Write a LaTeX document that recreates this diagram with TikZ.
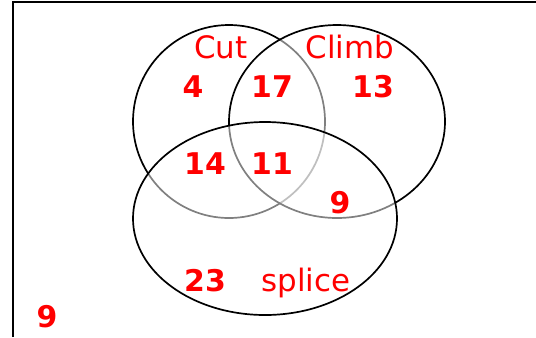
\documentclass[tikz,border=0pt]{standalone}
\usepackage{fontspec}
\setmainfont{DejaVu Sans}
\usetikzlibrary{positioning}

\begin{document}
\begin{tikzpicture}[x=1bp, y=-1bp,
    setline/.style={line width=1.7bp},
    veil/.style={fill=white, fill opacity=0.5},
    count/.style={text=red, inner sep=0pt, anchor=base, font=\fontsize{30}{36}\selectfont\bfseries},
    setname/.style={text=red, inner sep=0pt, anchor=base, font=\fontsize{31}{37}\selectfont},
]
\useasboundingbox (0,0) rectangle (536,337);

% Frame
\draw[line width=2.6bp] (13,337) -- (13,2) -- (536,2);

% Sets
\draw[setline] (229,121.5) ellipse [x radius=96, y radius=96.5];
\fill[veil] (337,121.5) ellipse [x radius=108, y radius=96.5];
\draw[setline] (337,121.5) ellipse [x radius=108, y radius=96.5];
\fill[veil] (265,218.5) ellipse [x radius=132, y radius=96.5];
\draw[setline] (265,218.5) ellipse [x radius=132, y radius=96.5];

% Set names
\node[setname] (cut) at (221,58) {Cut};
\node[setname] (climb) at (350,58) {Climb};
\node[setname] (splice) at (306,291) {splice};

% Counts
\node[count] (n4) at (193,97) {4};
\node[count] (n17) at (272,97) {17};
\node[count] (n13) at (373,97) {13};
\node[count] (n14) at (205,174) {14};
\node[count] (n11) at (272,174) {11};
\node[count] (n9) at (340,213) {9};
\node[count] (n23) at (205,291) {23};
\node[count] (nout) at (47,327) {9};

\end{tikzpicture}
\end{document}
